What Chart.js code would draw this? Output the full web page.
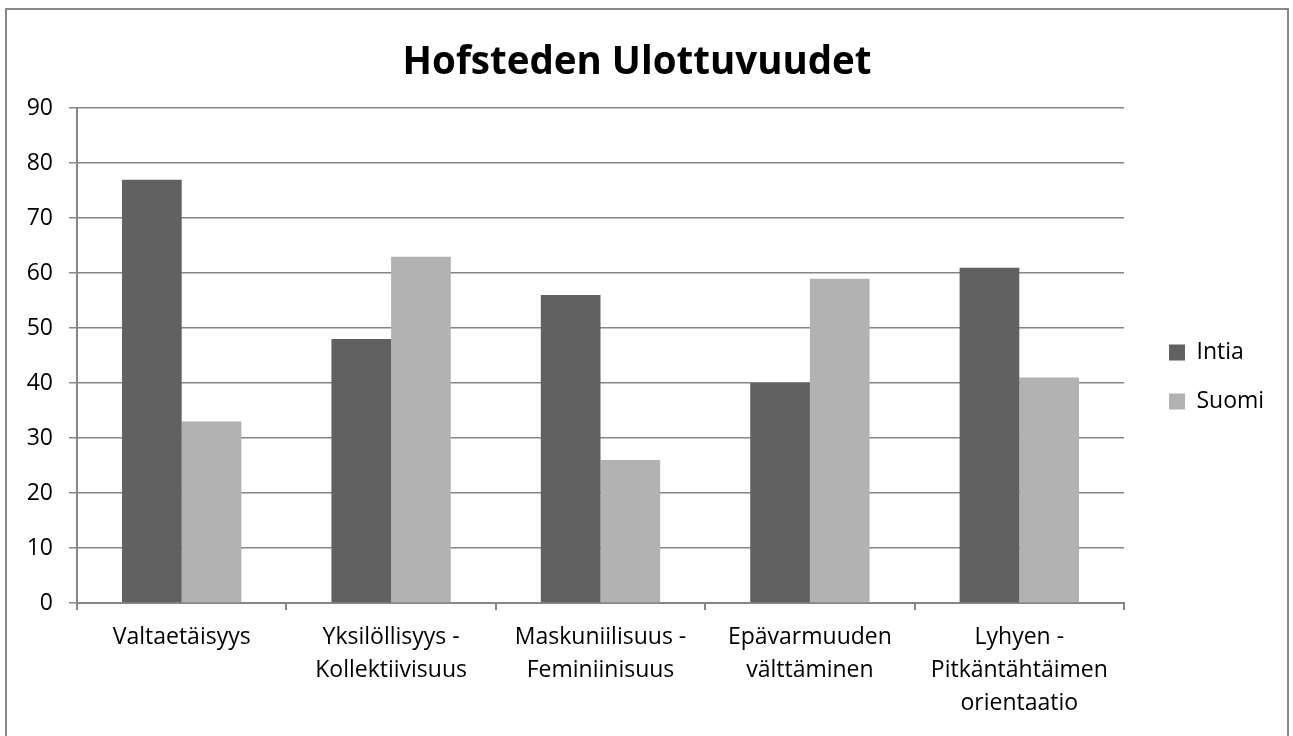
<!DOCTYPE html>
<html>
<head>
<meta charset="utf-8">
<script src="https://cdn.jsdelivr.net/npm/chart.js@4.4.0/dist/chart.umd.min.js"></script>
<style>
    html, body { margin: 0; padding: 0; background: #ffffff; }
    #wrap { position: absolute; left: 0; top: 0; width: 1293px; height: 736px; }
    #frame { position: absolute; left: 5px; top: 8px; width: 1284px; height: 740px; border: 2px solid #888888; box-sizing: border-box; }
    #chart { position: absolute; left: 0; top: 0; }
</style>
</head>
<body>
<div id="wrap">
    <div id="frame"></div>
    <canvas id="chart" width="1293" height="736"></canvas>
</div>
<script>
const categories = [
    'Valtaetäisyys',
    ['Yksilöllisyys -', 'Kollektiivisuus'],
    ['Maskuniilisuus -', 'Feminiinisuus'],
    ['Epävarmuuden', 'välttäminen'],
    ['Lyhyen -', 'Pitkäntähtäimen', 'orientaatio']
];
const intiaValues = [77, 48, 56, 40, 61];
const suomiValues = [33, 63, 26, 59, 41];
const yTicks = [0, 10, 20, 30, 40, 50, 60, 70, 80, 90];

const FONT = "'Open Sans', sans-serif";
const axisGray = '#868686';
const PLOT_RIGHT = 1124; // right edge of the plot area in the reference

const ctx = document.getElementById('chart').getContext('2d');
const chart = new Chart(ctx, {
    type: 'bar',
    data: {
        labels: categories,
        datasets: [
            { label: 'Intia', data: intiaValues, backgroundColor: '#616161', borderWidth: 0 },
            { label: 'Suomi', data: suomiValues, backgroundColor: '#b2b2b2', borderWidth: 0 }
        ]
    },
    options: {
        responsive: false,
        animation: false,
        layout: { padding: { left: 0, right: 0, top: 0, bottom: 0 } },
        datasets: {
            bar: { categoryPercentage: 0.57, barPercentage: 1.0 }
        },
        plugins: {
            title: {
                display: true,
                text: 'Hofsteden Ulottuvuudet',
                color: '#000000',
                font: { family: FONT, size: 38.5, weight: 'bold', lineHeight: 1.2 },
                padding: { top: 40, bottom: 22 }
            },
            legend: {
                position: 'right',
                title: { display: true, text: ' ', font: { size: 10, lineHeight: 1.2 }, padding: 3 },
                labels: {
                    color: '#000000',
                    font: { family: FONT, size: 23 },
                    boxWidth: 16,
                    boxHeight: 16,
                    padding: 26
                }
            },
            tooltip: { enabled: false }
        },
        scales: {
            x: {
                grid: {
                    offset: true,
                    drawOnChartArea: false,
                    drawTicks: true,
                    tickLength: 7,
                    color: axisGray,
                    lineWidth: 2
                },
                border: { color: axisGray, width: 2 },
                ticks: {
                    color: '#000000',
                    font: { family: FONT, size: 23, lineHeight: 1.43 },
                    padding: 11,
                    maxRotation: 0,
                    autoSkip: false
                },
                afterFit: (scale) => { scale.height = 133; }
            },
            y: {
                min: 0,
                max: 90,
                afterBuildTicks: (scale) => { scale.ticks = yTicks.map(v => ({ value: v })); },
                grid: {
                    color: axisGray,
                    lineWidth: 1.5,
                    tickLength: 8
                },
                border: { color: axisGray, width: 2 },
                ticks: {
                    color: '#000000',
                    font: { family: FONT, size: 23 },
                    padding: 16
                },
                afterFit: (scale) => { scale.width = 77; }
            },
            gap: {
                position: 'right',
                display: true,
                grid: { display: false },
                border: { display: false },
                ticks: { display: false },
                afterFit: (scale) => { scale.width = 19; }
            }
        }
    }
});

// Pull the plot area's right edge to where the reference has it
const diff = PLOT_RIGHT - chart.chartArea.right;
if (Math.abs(diff) > 0.5) {
    chart.options.layout.padding.right = Math.max(0, -diff);
    chart.update();
}
</script>
</body>
</html>
